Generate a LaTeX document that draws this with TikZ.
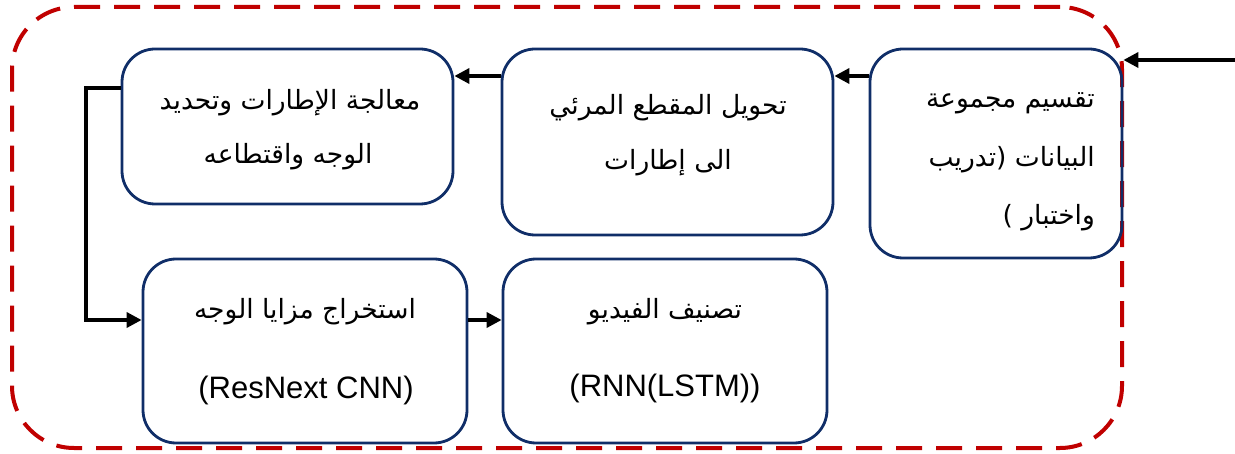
\documentclass[tikz,border=0pt]{standalone}
\usepackage{fontspec}
\setmainfont{Liberation Sans}
\newfontfamily\arabicfont[Script=Arabic]{DejaVu Sans}
\TeXXeTstate=1
\usetikzlibrary{arrows.meta}
\definecolor{boxblue}{RGB}{16,46,104}
\definecolor{framered}{RGB}{192,0,0}
\newcommand{\ar}[1]{{\arabicfont\beginR #1\endR}}
\tikzset{
  stagebox/.style={draw=boxblue, line width=2.8pt, rounded corners=33pt, inner sep=0pt},
  frame/.style={draw=framered, line width=4pt, dash pattern=on 26pt off 14pt, rounded corners=62pt, inner sep=0pt},
  arr/.style={draw=black, line width=3.5pt, -{Triangle[length=15pt,width=15pt]}},
  lbl/.style={inner sep=0pt, font=\fontsize{26.5}{30}\selectfont},
  latin/.style={inner sep=0pt, font=\fontsize{31}{36}\selectfont},
}
\begin{document}
\begin{tikzpicture}[x=1pt,y=-1pt]
  \useasboundingbox (0,0) rectangle (1235,454);
  % outer dashed frame
  \node[frame, minimum width=1110pt, minimum height=441pt] (fr) at (567,227.5) {};
  % process stages
  \node[stagebox, minimum width=252pt, minimum height=209pt] (b1) at (996,153.5) {};
  \node[stagebox, minimum width=331pt, minimum height=186pt] (b2) at (667.5,142) {};
  \node[stagebox, minimum width=331pt, minimum height=155pt] (b3) at (287.5,126.5) {};
  \node[stagebox, minimum width=324pt, minimum height=184pt] (b4) at (305,351) {};
  \node[stagebox, minimum width=324pt, minimum height=184pt] (b5) at (665,351) {};
  % labels
  \node[lbl, anchor=east] (t1a) at (1095,103) {\ar{تقسيم مجموعة}};
  \node[lbl, anchor=east] (t1b) at (1095,160) {\ar{البيانات (تدريب}};
  \node[lbl, anchor=east] (t1c) at (1095,218) {\ar{واختبار )}};
  \node[lbl] (t2a) at (668,108) {\ar{تحويل المقطع المرئي}};
  \node[lbl] (t2b) at (668,163) {\ar{الى إطارات}};
  \node[lbl] (t3a) at (290,103) {\ar{معالجة الإطارات وتحديد}};
  \node[lbl] (t3b) at (288,157) {\ar{الوجه واقتطاعه}};
  \node[lbl] (t4a) at (305,312) {\ar{استخراج مزايا الوجه}};
  \node[latin] (t4b) at (306,390) {(ResNext CNN)};
  \node[lbl] (t5a) at (665,312) {\ar{تصنيف الفيديو}};
  \node[latin] (t5b) at (665,388) {(RNN(LSTM))};
  % connector rows
  \coordinate (in) at (1235,60);
  \coordinate (r1) at (0,76);
  \coordinate (r2) at (0,88);
  \coordinate (r3) at (0,320);
  \coordinate (lx) at (86,88);
  % connectors
  \draw[arr] (in) -- (in -| b1.east);
  \draw[arr] (b1.west |- r1) -- (b2.east |- r1);
  \draw[arr] (b2.west |- r1) -- (b3.east |- r1);
  \draw[arr] (b3.west |- r2) -- (lx) |- (b4.west |- r3);
  \draw[arr] (b4.east |- r3) -- (b5.west |- r3);
\end{tikzpicture}
\end{document}
